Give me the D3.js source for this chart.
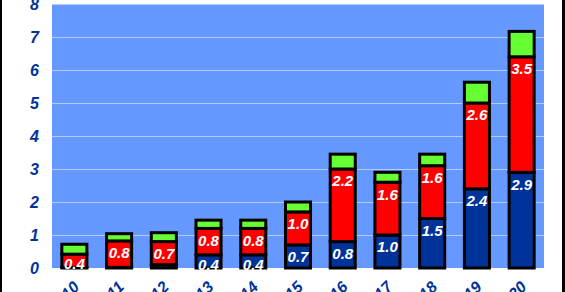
<!DOCTYPE html>
<html>
<head>
<meta charset="utf-8">
<script src="https://cdn.jsdelivr.net/npm/d3@7"></script>
<style>
  html, body { margin: 0; padding: 0; background: #fff; overflow: hidden; }
  svg { display: block; }
</style>
</head>
<body>
<div id="wrapper"></div>
<script>
// data
const years = ["2010", "2011", "2012", "2013", "2014", "2015", "2016", "2017", "2018", "2019", "2020"];
const blueValues = [0.02, 0.02, 0.1, 0.4, 0.4, 0.7, 0.8, 1.0, 1.5, 2.4, 2.9];
const redValues = [0.4, 0.8, 0.7, 0.8, 0.8, 1.0, 2.2, 1.6, 1.6, 2.6, 3.5];
const greenValues = [0.3, 0.22, 0.27, 0.25, 0.25, 0.3, 0.45, 0.3, 0.35, 0.63, 0.77];
const yTicks = [0, 1, 2, 3, 4, 5, 6, 7, 8];
// which segments carry a value label
const blueLabeled = [false, false, false, true, true, true, true, true, true, true, true];

const dimensions = {
  width: 565,
  height: 292,
  margin: { top: 4, right: 21, bottom: 24, left: 52 },
};
dimensions.boundsWidth = dimensions.width - dimensions.margin.left - dimensions.margin.right;
dimensions.boundsHeight = dimensions.height - dimensions.margin.top - dimensions.margin.bottom;

const svg = d3.select("#wrapper").append("svg")
  .attr("width", dimensions.width)
  .attr("height", dimensions.height);

// black frame edges at left and right
svg.append("rect").attr("x", 0).attr("y", 0).attr("width", 2).attr("height", dimensions.height).attr("fill", "#000");
svg.append("rect").attr("x", 562).attr("y", 0).attr("width", 3).attr("height", dimensions.height).attr("fill", "#000");

const bounds = svg.append("g")
  .attr("transform", `translate(${dimensions.margin.left},${dimensions.margin.top})`);

const xScale = d3.scaleBand()
  .domain(years)
  .range([0, dimensions.boundsWidth])
  .paddingInner(0.44)
  .paddingOuter(0.22);

const yScale = d3.scaleLinear()
  .domain([0, 8])
  .range([dimensions.boundsHeight, 0]);

// plot background
bounds.append("rect")
  .attr("width", dimensions.boundsWidth)
  .attr("height", dimensions.boundsHeight)
  .attr("fill", "#6699ff");

// gridlines
bounds.append("g")
  .selectAll("line")
  .data(yTicks.filter((d) => d > 0))
  .join("line")
  .attr("x1", 0)
  .attr("x2", dimensions.boundsWidth)
  .attr("y1", (d) => Math.round(yScale(d)) + 0.5)
  .attr("y2", (d) => Math.round(yScale(d)) + 0.5)
  .attr("stroke", "#b3ccff")
  .attr("stroke-width", 1.2);

// stacked data
const rows = years.map((year, i) => ({
  year,
  blue: blueValues[i],
  red: redValues[i],
  green: greenValues[i],
}));
const keys = ["blue", "red", "green"];
const colors = { blue: "#003399", red: "#ff0000", green: "#66ff33" };
const stacked = d3.stack().keys(keys)(rows);

const bandX = (d) => xScale(d.data.year);

bounds.append("g")
  .selectAll("g")
  .data(stacked)
  .join("g")
  .attr("fill", (s) => colors[s.key])
  .selectAll("rect")
  .data((s) => s)
  .join("rect")
  .attr("x", bandX)
  .attr("width", xScale.bandwidth())
  .attr("y", (d) => yScale(d[1]))
  .attr("height", (d) => yScale(d[0]) - yScale(d[1]))
  .attr("stroke", "#000")
  .attr("stroke-width", 3);

// value labels near the top of each segment
const labelFor = (key, flags) => stacked
  .find((s) => s.key === key)
  .map((d, i) => ({ d, i }))
  .filter(({ i }) => !flags || flags[i]);

const labelData = [
  ...labelFor("red").map(({ d, i }) => ({ d, v: redValues[i] })),
  ...labelFor("blue", blueLabeled).map(({ d, i }) => ({ d, v: blueValues[i] })),
];

bounds.append("g")
  .selectAll("text")
  .data(labelData)
  .join("text")
  .attr("x", ({ d }) => bandX(d) + xScale.bandwidth() / 2)
  .attr("y", ({ d }) => {
    const top = yScale(d[1]);
    const h = yScale(d[0]) - top;
    return top + Math.min(12, h / 2 + 3);
  })
  .attr("dy", "0.36em")
  .attr("text-anchor", "middle")
  .attr("fill", "#fff")
  .attr("font-family", "Arial, 'Liberation Sans', sans-serif")
  .attr("font-weight", "bold")
  .attr("font-style", "italic")
  .attr("font-size", 15)
  .text(({ v }) => v.toFixed(1));

// y axis labels
const yAxis = bounds.append("g")
  .call(d3.axisLeft(yScale).tickValues(yTicks).tickSize(0).tickPadding(13).tickFormat(d3.format("d")));
yAxis.select(".domain").remove();
yAxis.selectAll("text")
  .attr("fill", "#003399")
  .attr("font-family", "Arial, 'Liberation Sans', sans-serif")
  .attr("font-weight", "bold")
  .attr("font-style", "italic")
  .attr("font-size", 16);

// x axis labels, rotated
const xAxis = bounds.append("g")
  .attr("transform", `translate(0,${dimensions.boundsHeight})`)
  .call(d3.axisBottom(xScale).tickSize(0));
xAxis.select(".domain").remove();
xAxis.selectAll("text")
  .attr("fill", "#003399")
  .attr("font-family", "Arial, 'Liberation Sans', sans-serif")
  .attr("font-weight", "bold")
  .attr("font-style", "italic")
  .attr("font-size", 16)
  .attr("text-anchor", "end")
  .attr("dy", null)
  .attr("y", 0)
  .attr("transform", "translate(6,20) rotate(-45)");
</script>
</body>
</html>
